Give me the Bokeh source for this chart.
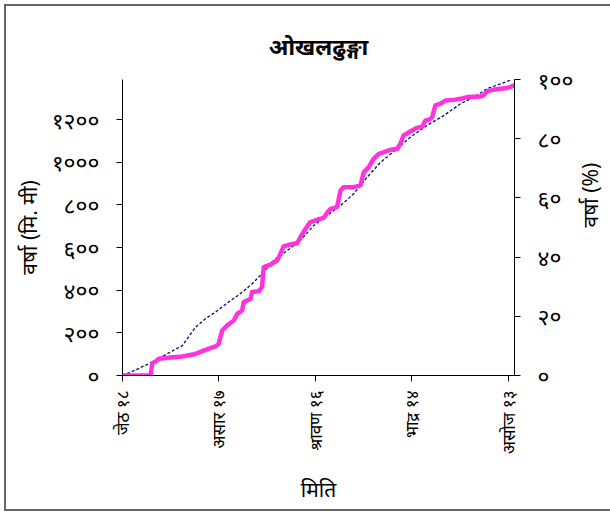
import math
from bokeh.plotting import figure
from bokeh.models import Range1d, LinearAxis, FixedTicker
from bokeh.embed import file_html
from bokeh.resources import INLINE

# cumulative observed rainfall (mm), left axis
days_actual = [0, 8.7, 9.3, 10.3, 11.3, 14.9, 18.6, 22.7, 25.8, 28.9, 29.9, 31.0, 32.5,
               34.6, 35.7, 37.2, 37.7, 39.8, 40.3, 42.4, 43.4, 43.9, 46.0, 48.1, 49.1,
               50.1, 52.2, 54.3, 55.3, 56.4, 58.4, 60.5, 62.6, 63.8, 64.7, 66.7, 67.8,
               68.8, 71.9, 74.0, 75.0, 76.6, 78.1, 79.7, 83.3, 85.4, 86.4, 87.4, 89.5,
               91.6, 93.2, 94.2, 95.2, 96.3, 97.3, 98.9, 100.4, 103.0, 105.1, 107.2,
               111.3, 112.3, 113.4, 115.4, 117.5, 119.6, 120.6, 121.6]
rain_mm = [0, 0, 58, 66, 78, 84, 89, 101, 120, 136, 148, 211, 234,
           258, 289, 305, 344, 359, 391, 395, 414, 508, 520, 539, 570,
           605, 614, 620, 648, 676, 719, 730, 739, 766, 781, 789, 867,
           883, 883, 891, 952, 977, 1016, 1039, 1058, 1062, 1086, 1125, 1144,
           1161, 1167, 1195, 1198, 1211, 1266, 1274, 1289, 1292, 1297, 1305,
           1308, 1313, 1333, 1339, 1344, 1348, 1352, 1359]

# cumulative normal rainfall (%), right axis
days_normal = [0, 4.1, 8.2, 12.3, 18.6, 22.7, 25.8, 28.9, 33.0, 37.2, 40.3, 43.9,
               47.0, 51.2, 55.3, 59.5, 63.6, 67.8, 71.9, 76.1, 80.2, 85.4, 89.5,
               94.7, 99.9, 105.1, 109.2, 113.4, 117.5, 121.1]
normal_pct = [0, 1.9, 4.0, 6.4, 10.1, 16.3, 19.2, 21.4, 24.8, 28.1, 31.0, 34.9,
              38.9, 42.2, 45.6, 50.7, 54.1, 57.4, 61.4, 67.0, 72.0, 76.6, 80.5,
              84.5, 87.8, 91.8, 94.0, 96.9, 98.5, 100.0]

x_ticks = [0, 30, 60, 90, 120]
x_labels = ["जेठ १८", "असार १७", "श्रावण १६", "भाद्र १४", "असोज १३"]
mm_ticks = [0, 200, 400, 600, 800, 1000, 1200]
mm_labels = ["०", "२००", "४००", "६००", "८००", "१०००", "१२००"]
pct_ticks = [0, 20, 40, 60, 80, 100]
pct_labels = ["०", "२०", "४०", "६०", "८०", "१००"]

FONT = "Noto Sans"

p = figure(frame_width=392, frame_height=296,
           x_range=Range1d(0, 121.9), y_range=Range1d(0, 1387.5),
           output_backend="svg", toolbar_location=None,
           min_border_left=116, min_border_top=73, min_border_right=98,
           min_border_bottom=134, title="ओखलढुङ्गा")
p.extra_y_ranges = {"pct": Range1d(0, 100)}
p.styles = {"border-top": "2px solid #666", "border-left": "2px solid #666",
            "border-bottom": "2px solid #666", "border-right": "none",
            "margin-left": "4px", "margin-top": "4px"}

p.outline_line_color = None
p.xgrid.visible = False
p.ygrid.visible = False
p.background_fill_color = "white"
p.border_fill_color = "white"

p.title.align = "center"
p.title.text_font = FONT
p.title.text_font_size = "23px"
p.title.text_font_style = "bold"
p.title.text_color = "black"
p.title.standoff = 35

p.add_layout(LinearAxis(y_range_name="pct"), "right")

for ax in p.axis:
    ax.axis_line_color = "black"
    ax.axis_line_width = 1
    ax.major_tick_line_color = "black"
    ax.major_tick_out = 6
    ax.major_tick_in = 0
    ax.minor_tick_line_color = None
    ax.major_label_text_font = FONT
    ax.major_label_text_font_size = "23px"
    ax.major_label_text_color = "black"
    ax.axis_label_text_font = FONT
    ax.axis_label_text_font_size = "21px"
    ax.axis_label_text_font_style = "normal"
    ax.axis_label_text_color = "black"
    ax.major_label_standoff = 17

xa = p.xaxis[0]
xa.ticker = FixedTicker(ticks=x_ticks)
xa.major_label_overrides = {t: l for t, l in zip(x_ticks, x_labels)}
xa.major_label_orientation = math.pi / 2
xa.major_label_text_font_size = "17px"
xa.major_label_standoff = 9
xa.axis_label = "मिति"
xa.axis_label_standoff = 18

ya = p.yaxis[0]
ya.ticker = FixedTicker(ticks=mm_ticks)
ya.major_label_overrides = {t: l for t, l in zip(mm_ticks, mm_labels)}
ya.axis_label = "वर्षा (मि. मी)"
ya.axis_label_standoff = 6

ra = p.yaxis[1]
ra.ticker = FixedTicker(ticks=pct_ticks)
ra.major_label_overrides = {t: l for t, l in zip(pct_ticks, pct_labels)}
ra.axis_label = "वर्षा (%)"
ra.axis_label_standoff = 14
ra.axis_label_orientation = math.pi / 2

p.line(days_normal, normal_pct, y_range_name="pct", line_color="#0A0A80",
       line_width=1.3, line_dash="3 2")
p.line(days_actual, rain_mm, line_color="#FF33DD", line_width=4.5,
       line_join="round", line_cap="round")

html = file_html(p, INLINE)
html = html.replace("<head>", "<head><style>html, body { overflow: hidden; }</style>", 1)
open("out.html", "w").write(html)
